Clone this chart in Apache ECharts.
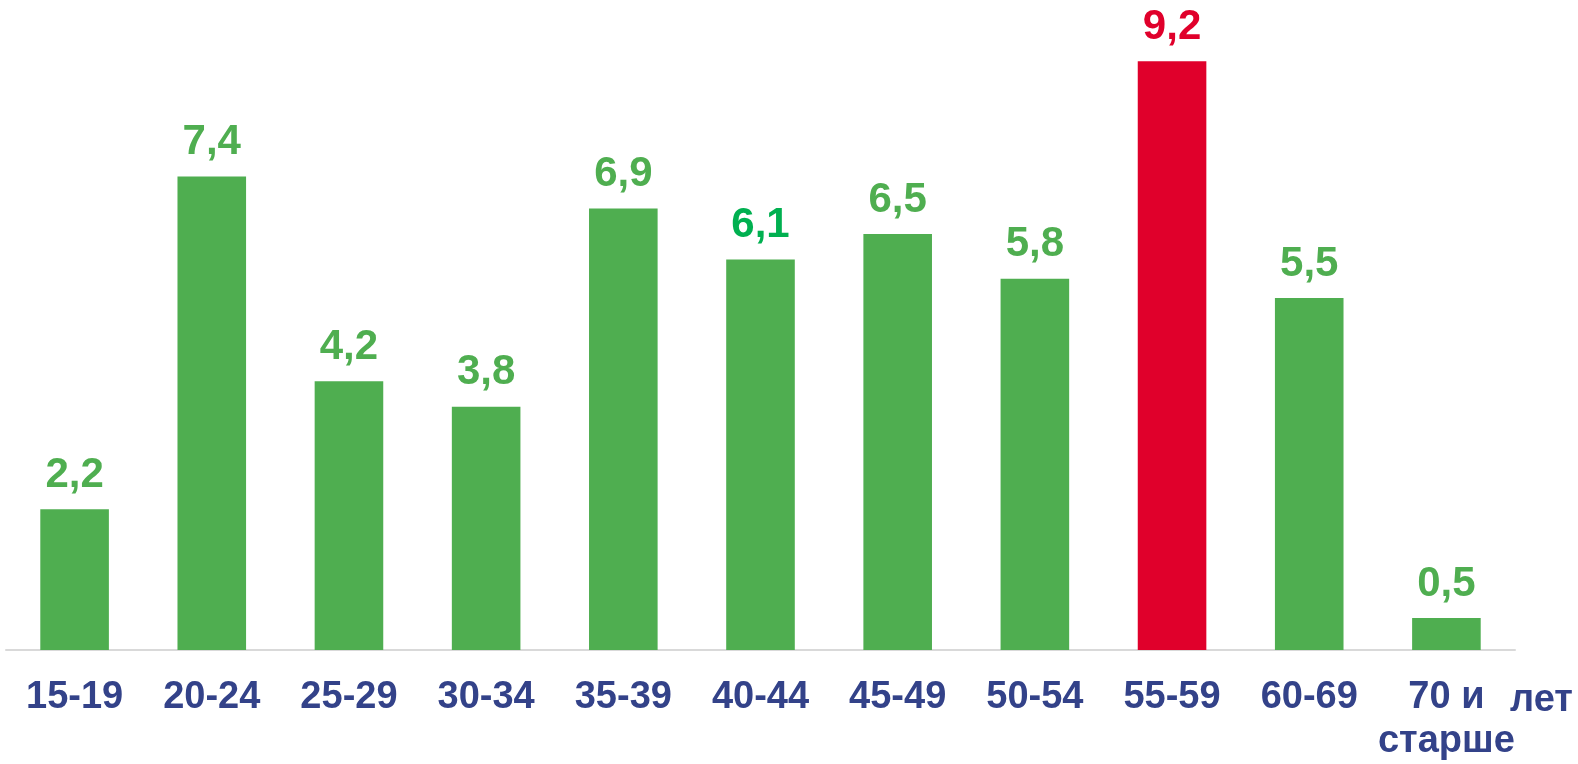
<!DOCTYPE html>
<html><head><meta charset="utf-8">
<script src="https://cdn.jsdelivr.net/npm/echarts@6/dist/echarts.min.js"></script>
<style>html,body{margin:0;padding:0;background:#fff}#c{width:1578px;height:764px}</style>
</head><body><div id="c"></div>
<script>
const categories = ['15-19','20-24','25-29','30-34','35-39','40-44','45-49','50-54','55-59','60-69','70 и\nстарше'];
const values = [2.2, 7.4, 4.2, 3.8, 6.9, 6.1, 6.5, 5.8, 9.2, 5.5, 0.5];
const highlightIndex = 8;
const unitLabel = 'лет';

const green = '#4FAE50', red = '#E0002B', navy = '#334289';
const chart = echarts.init(document.getElementById('c'));
chart.setOption({
  animation: false,
  grid: {left: 6, right: 63, top: 10, bottom: 107},
  xAxis: {
    type: 'category', data: categories,
    axisLine: {lineStyle: {color: '#D9D9D9', width: 2}},
    axisTick: {show: false},
    axisLabel: {color: navy, fontFamily: 'Liberation Sans, Arial', fontWeight: 'bold', fontSize: 38, margin: 26, lineHeight: 44, interval: 0}
  },
  yAxis: {type: 'value', min: 0, max: 10, show: false, splitLine: {show: false}},
  series: [{
    type: 'bar', barWidth: '50%',
    data: values.map((v, i) => ({
      value: v,
      itemStyle: {color: i === highlightIndex ? red : green},
      label: {color: i === highlightIndex ? red : (i === 5 ? '#00B050' : green)}
    })),
    label: {
      show: true, position: 'top', distance: 13,
      fontFamily: 'Liberation Sans, Arial', fontWeight: 'bold', fontSize: 42,
      formatter: p => String(p.value).replace('.', ',')
    }
  }],
  graphic: [{
    type: 'text', x: 1510, y: 701,
    style: {text: unitLabel, fill: navy, font: 'bold 38px "Liberation Sans", Arial', verticalAlign: 'middle', align: 'left'}
  }]
});
</script></body></html>
